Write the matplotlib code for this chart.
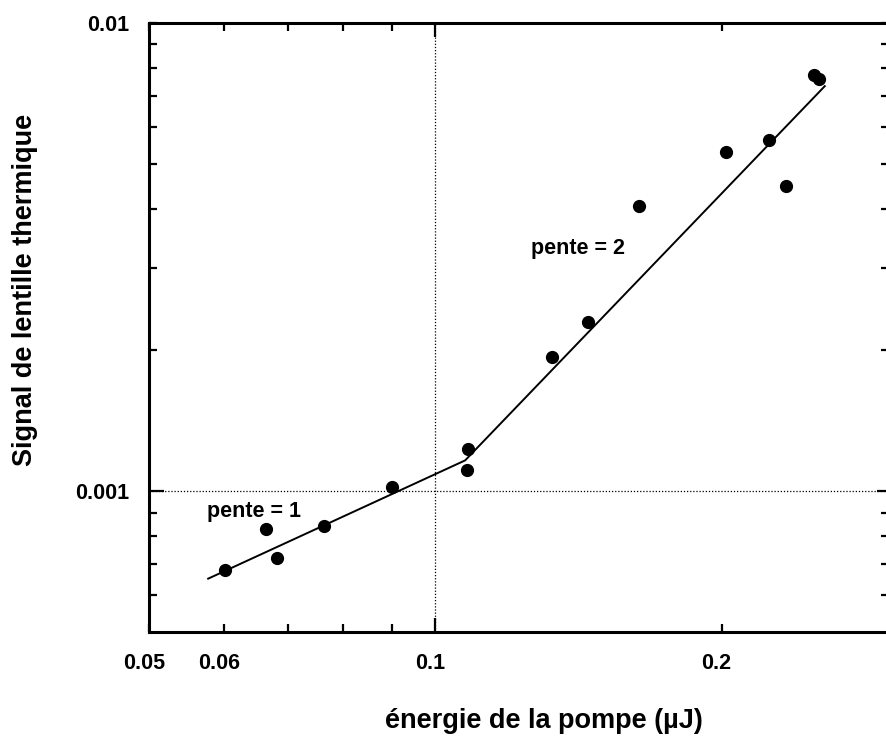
import matplotlib
matplotlib.use("Agg")
import matplotlib.pyplot as plt
import matplotlib.transforms as mtransforms
from matplotlib.ticker import FixedLocator, FixedFormatter, NullFormatter

plt.rcParams['font.family'] = ['Liberation Sans', 'DejaVu Sans']
plt.rcParams['font.weight'] = 'bold'

# Data
energy = [0.0601, 0.0664, 0.0681, 0.0764, 0.0900, 0.1079, 0.1083, 0.1326,
          0.1447, 0.1637, 0.2021, 0.2244, 0.2336, 0.2500, 0.2531]
signal = [0.000677, 0.000831, 0.000719, 0.000842, 0.00102, 0.00111, 0.001228,
          0.00193, 0.002296, 0.00406, 0.0053, 0.00562, 0.00448, 0.00774, 0.00759]

fit_x = [0.0577, 0.1075, 0.2568]
fit_y = [0.00065, 0.001163, 0.00733]

x_major = [0.05, 0.06, 0.1, 0.2]
x_major_labels = ['0.05', '0.06', '0.1', '0.2']
x_minor = [0.07, 0.08, 0.09]
y_major = [0.001, 0.01]
y_major_labels = ['0.001', '0.01']
y_minor = [0.0006, 0.0007, 0.0008, 0.0009, 0.002, 0.003, 0.004, 0.005,
           0.006, 0.007, 0.008, 0.009]
ref_x = 0.1
ref_y = 0.001

annotations = [("pente = 1", 0.0644, 0.000879), ("pente = 2", 0.1413, 0.003211)]

fig = plt.figure(figsize=(8.87, 7.36), dpi=100)
ax = fig.add_axes([149/887, 1 - 632/736, 740/887, 609/736])
ax.set_xscale('log')
ax.set_yscale('log')
ax.set_xlim(0.05, 0.3)
ax.set_ylim(0.0005, 0.01)

ax.axvline(ref_x, color='black', lw=0.9, ls=(0, (1, 1.5)), zorder=1)
ax.axhline(ref_y, color='black', lw=0.9, ls=(0, (1, 1.5)), zorder=1)

ax.plot(fit_x, fit_y, color='black', lw=1.4, zorder=2)
ax.plot(energy, signal, 'o', color='black', ms=8.5, zorder=3)

for txt, tx, ty in annotations:
    ax.text(tx, ty, txt, ha='center', va='baseline', fontsize=15.5,
            fontweight='bold')

ax.xaxis.set_major_locator(FixedLocator(x_major))
ax.xaxis.set_major_formatter(FixedFormatter(x_major_labels))
ax.xaxis.set_minor_locator(FixedLocator(x_minor))
ax.xaxis.set_minor_formatter(NullFormatter())
ax.yaxis.set_major_locator(FixedLocator(y_major))
ax.yaxis.set_major_formatter(FixedFormatter(y_major_labels))
ax.yaxis.set_minor_locator(FixedLocator(y_minor))
ax.yaxis.set_minor_formatter(NullFormatter())

ax.tick_params(which='both', direction='in', top=True, right=True,
               width=1.6, labelsize=15.5)
ax.tick_params(which='major', length=6)
ax.tick_params(which='minor', length=6)
ax.tick_params(axis='x', which='major', pad=15)
ax.tick_params(axis='y', which='major', pad=14)

fig.canvas.draw()
# longer major ticks at 0.1 and 0.001
for t, val in zip(ax.xaxis.get_major_ticks(), x_major):
    if val == ref_x:
        t.tick1line.set_markersize(10)
        t.tick2line.set_markersize(10)
for t, val in zip(ax.yaxis.get_major_ticks(), y_major):
    if val == ref_y:
        t.tick1line.set_markersize(11)
        t.tick2line.set_markersize(9)

offset = mtransforms.ScaledTranslation(-5/100, 0, fig.dpi_scale_trans)
for lbl in ax.get_xticklabels():
    lbl.set_transform(lbl.get_transform() + offset)

for s in ax.spines.values():
    s.set_linewidth(2.2)

ax.set_xlabel("énergie de la pompe (µJ)", fontsize=19.5, fontweight='bold')
ax.xaxis.label.set_va('center')
ax.xaxis.set_label_coords((544 - 149) / 740, (632 - 721) / 609)
ax.set_ylabel("Signal de lentille thermique", fontsize=19.5, fontweight='bold')
ax.yaxis.label.set_va('center')
ax.yaxis.set_label_coords((25.5 - 149) / 740, (632 - 290) / 609)

fig.savefig("out.png", dpi=100)
